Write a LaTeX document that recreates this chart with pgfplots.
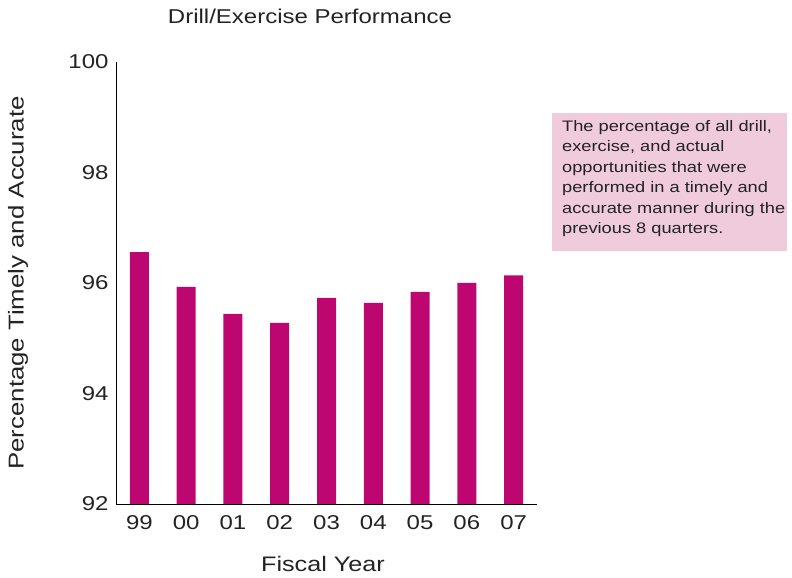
\documentclass[border=0pt]{standalone}
\usepackage{pgfplots}
\pgfplotsset{compat=1.18}
\usepackage{fontspec}
\setmainfont{Liberation Sans}[FakeStretch=1.2]
\definecolor{barc}{RGB}{190,6,112}
\definecolor{boxc}{RGB}{239,203,220}
\definecolor{txt}{RGB}{35,35,35}
\begin{document}
\begin{tikzpicture}[x=1bp,y=1bp]
\useasboundingbox (0,0) rectangle (792,578);
\begin{axis}[
  at={(116bp,74bp)}, anchor=south west,
  scale only axis, width=421bp, height=442bp,
  xmin=-0.5, xmax=8.5, ymin=92, ymax=100,
  axis lines*=left,
  axis line style={black, line width=0.8bp},
  ytick={92,94,96,98,100},
  xtick={0,1,2,3,4,5,6,7,8},
  xticklabels={99,00,01,02,03,04,05,06,07},
  major tick length=0pt,
  tick label style={font=\fontsize{20bp}{24bp}\selectfont, text=txt},
  /pgf/number format/assume math mode=true,
  yticklabel style={xshift=-4bp},
  xticklabel style={yshift=-8bp},
  ybar, bar width=19bp,
  clip=true,
]
\addplot[fill=barc, draw=none] coordinates {
(0,96.56) (1,95.93) (2,95.44) (3,95.28) (4,95.73) (5,95.64) (6,95.84) (7,96.00) (8,96.14)};
\end{axis}
\node[text=txt, font=\fontsize{20bp}{24bp}\selectfont] at (310,562) {Drill/Exercise Performance};
\node[text=txt, font=\fontsize{21.5bp}{24bp}\selectfont, rotate=90] at (18,295) {Percentage Timely and Accurate};
\node[text=txt, font=\fontsize{21bp}{24bp}\selectfont] at (323,14) {Fiscal Year};
\fill[boxc] (552,465) rectangle (787,327);
\node[anchor=north west, text=txt, align=left, inner sep=0pt, font=\fontsize{15.2bp}{20.5bp}\selectfont] at (562,458) {The percentage of all drill,\\exercise, and actual\\opportunities that were\\performed in a timely and\\accurate manner during the\\previous 8 quarters.};
\end{tikzpicture}
\end{document}
